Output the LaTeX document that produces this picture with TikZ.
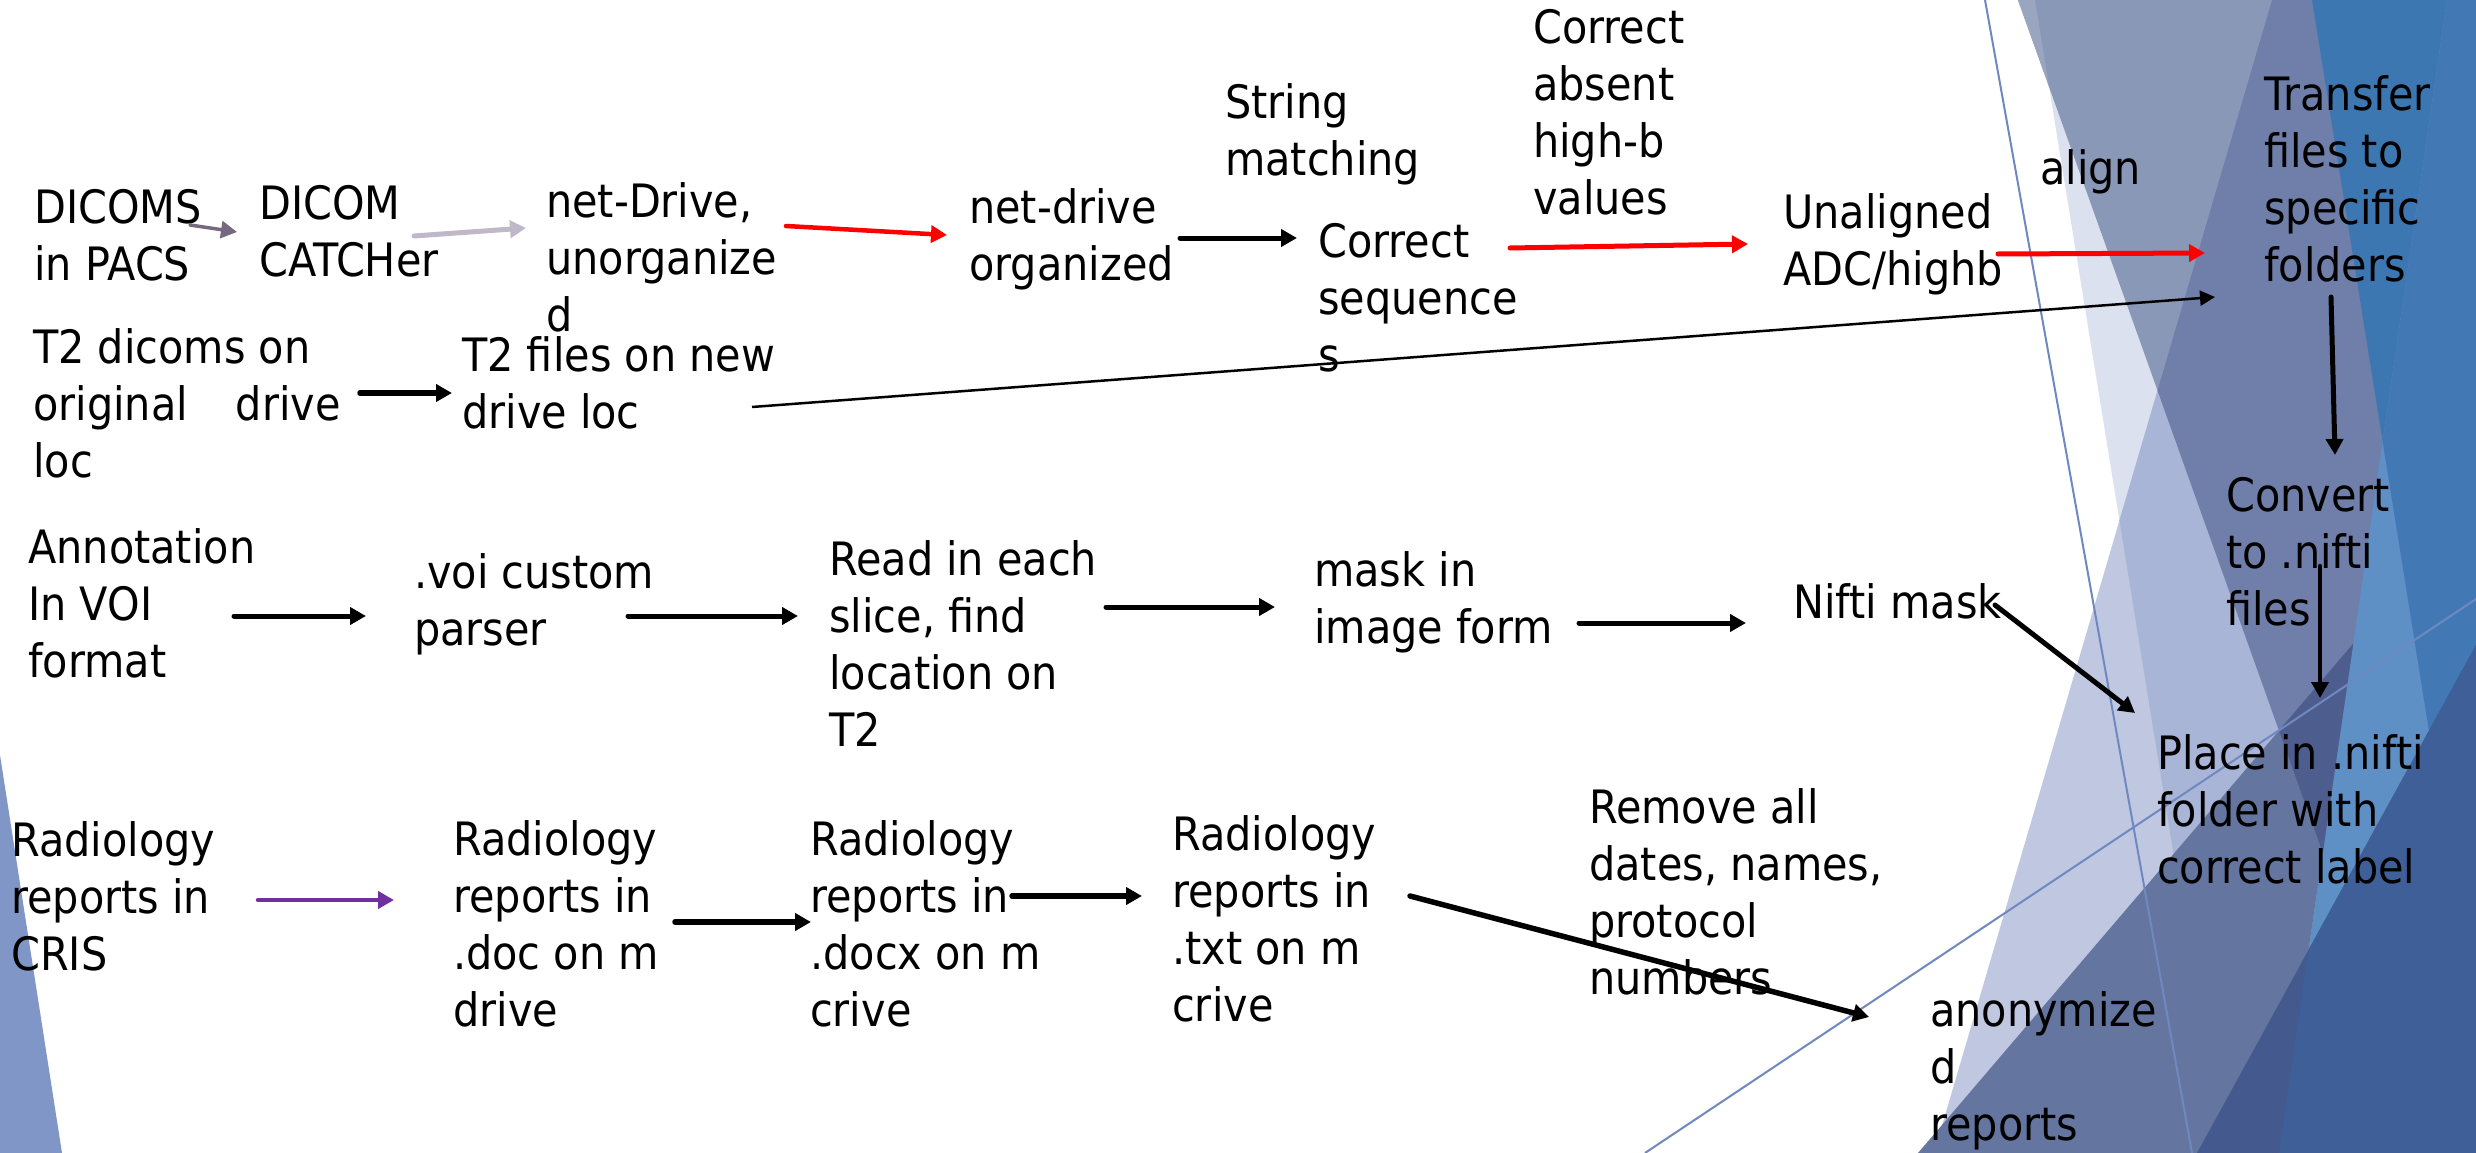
\documentclass[tikz,border=0pt]{standalone}
\usepackage{fontspec}
\setmainfont{DejaVu Sans}[FakeStretch=0.9]
\usetikzlibrary{arrows.meta}
\definecolor{cP}{HTML}{DCE1EF}
\definecolor{cB}{HTML}{BFC8E0}
\definecolor{cBP}{HTML}{A9B5D6}
\definecolor{cA}{HTML}{9AA5C0}
\definecolor{cAP}{HTML}{8A98B8}
\definecolor{cSl}{HTML}{6F7FAA}
\definecolor{cC}{HTML}{3D77B2}
\definecolor{cLB}{HTML}{5E8FC5}
\definecolor{cCtwo}{HTML}{4279B5}
\definecolor{cE}{HTML}{6476A0}
\definecolor{cEtwo}{HTML}{4D5D8D}
\definecolor{cG}{HTML}{44598E}
\definecolor{cGtwo}{HTML}{3F5F99}
\definecolor{cT}{HTML}{7088C0}
\definecolor{cSliver}{HTML}{8096C6}
\definecolor{arrPurple}{HTML}{7030A0}
\definecolor{arrGrayA}{HTML}{76687F}
\definecolor{arrGrayB}{HTML}{BFB8C8}
\begin{document}
\begin{tikzpicture}[x=1pt,y=-1pt,
  txt/.style={anchor=north west,inner sep=0pt,align=left,font=\fontsize{46}{57}\selectfont},
  arr/.style={line width=5pt,line cap=round,-{Triangle[length=16pt,width=17pt]}},
  thinarr/.style={line width=2.5pt,-{Triangle[length=15pt,width=15pt]}},
  bgline/.style={cT,line width=2pt}]
\useasboundingbox (0,0) rectangle (2476,1153);
\fill[white] (0,0) rectangle (2476,1153);
% ---------- background facets ----------
\fill[cP] (2035,0)--(2476,0)--(2476,1153)--(2222,1153)--cycle;
\fill[cB] (2272,0)--(2476,0)--(2476,1153)--(1934,1153)--cycle;
\begin{scope}
  \clip (2272,0)--(2476,0)--(2476,1153)--(1934,1153)--cycle;
  \fill[cBP] (2035,0)--(2476,0)--(2476,1153)--(2222,1153)--cycle;
\end{scope}
\fill[cAP] (2018,0)--(2476,0)--(2476,1153)--(2430,1153)--cycle;
\begin{scope}
  \clip (2018,0)--(2476,0)--(2476,1153)--(2430,1153)--cycle;
  \fill[cA] (0,0)--(2035,0)--(2222,1153)--(0,1153)--cycle;
\end{scope}
\begin{scope}
  \clip (2018,0)--(2476,0)--(2476,1153)--(2430,1153)--cycle;
  \fill[cSl] (2272,0)--(2476,0)--(2476,1153)--(1934,1153)--cycle;
\end{scope}
\fill[cC] (2312,0)--(2476,0)--(2476,1025)--cycle;
\begin{scope}
  \clip (2447,0)--(2476,0)--(2476,1153)--(2279,1153)--cycle;
  \fill[cLB] (0,0) rectangle (2476,1153);
  \fill[cCtwo] (2312,0)--(2476,0)--(2476,1025)--cycle;
\end{scope}
\begin{scope}
  \clip (0,0)--(2447,0)--(2279,1153)--(0,1153)--cycle;
  \clip (1918,1153)--(2476,500)--(2476,1153)--cycle;
  \fill[cE] (0,0) rectangle (2476,1153);
  \clip (2018,0)--(2476,0)--(2476,1153)--(2430,1153)--cycle;
  \fill[cEtwo] (0,0) rectangle (2476,1153);
\end{scope}
\fill[cG] (2197,1153)--(2476,645)--(2476,1153)--cycle;
\begin{scope}
  \clip (2197,1153)--(2476,645)--(2476,1153)--cycle;
  \clip (2447,0)--(2476,0)--(2476,1153)--(2279,1153)--cycle;
  \fill[cGtwo] (0,0) rectangle (2476,1153);
\end{scope}
\draw[bgline] (1985,0)--(2192,1153);
\draw[bgline] (1645,1153)--(2476,599);
\fill[cSliver] (0,755)--(62,1153)--(0,1153)--cycle;
% ---------- texts ----------
\node[txt] (dicoms)   at (34,183)   {\strut DICOMS\\in PACS};
\node[txt] (catcher)  at (259,179)  {\strut DICOM\\CATCHer};
\node[txt] (netunorg) at (546,177)  {\strut net-Drive,\\unorganize\\d};
\node[txt] (netorg)   at (969,183)  {\strut net-drive\\organized};
\node[txt] (strmatch) at (1225,78)  {\strut String\\matching};
\node[txt] (corrseq)  at (1318,217) {\strut Correct\\sequence\\s};
\node[txt] (corrabs)  at (1533,3)   {\strut Correct\\absent\\high-b\\values};
\node[txt] (unalign)  at (1783,188) {\strut Unaligned\\ADC/highb};
\node[txt] (align)    at (2040,144) {\strut align};
\node[txt] (transfer) at (2264,70)  {\strut Transfer\\files to\\specific\\folders};
\node[txt] (tdicoms)  at (33,323)   {\strut T2 dicoms on\\original\hspace*{48pt}drive\\loc};
\node[txt] (tfiles)   at (462,331)  {\strut T2 files on new\\drive loc};
\node[txt] (convert)  at (2226,471) {\strut Convert\\to .nifti\\files};
\node[txt] (annot)    at (28,523)   {\strut Annotation\\In VOI\\format};
\node[txt] (voi)      at (414,548)  {\strut .voi custom\\parser};
\node[txt] (readin)   at (829,535)  {\strut Read in each\\slice, find\\location on\\T2};
\node[txt] (maskimg)  at (1314,546) {\strut mask in\\image form};
\node[txt] (niftim)   at (1793,578) {\strut Nifti mask};
\node[txt] (place)    at (2157,729) {\strut Place in .nifti\\folder with\\correct label};
\node[txt] (cris)     at (11,816)   {\strut Radiology\\reports in\\CRIS};
\node[txt] (rdoc)     at (453,815)  {\strut Radiology\\reports in\\.doc on m\\drive};
\node[txt] (rdocx)    at (810,815)  {\strut Radiology\\reports in\\.docx on m\\crive};
\node[txt] (rtxt)     at (1172,810) {\strut Radiology\\reports in\\.txt on m\\crive};
\node[txt] (remove)   at (1589,783) {\strut Remove all\\dates, names,\\protocol\\numbers};
\node[txt] (anon)     at (1930,986) {\strut anonymize\\d\\reports};
% ---------- connector end points ----------
\coordinate (a1s) at (190,225);  \coordinate (a1e) at (237,232);
\coordinate (a2s) at (414,236);  \coordinate (a2e) at (526,228);
\coordinate (a3s) at (786,226);  \coordinate (a3e) at (947,235);
\coordinate (a4s) at (1180,238); \coordinate (a4e) at (1297,238);
\coordinate (a5s) at (1510,248); \coordinate (a5e) at (1748,244);
\coordinate (a6s) at (1998,254); \coordinate (a6e) at (2205,253);
\coordinate (a7s) at (360,393);  \coordinate (a7e) at (452,393);
\coordinate (a8s) at (752,407);  \coordinate (a8e) at (2215,297);
\coordinate (a9s) at (2331,297); \coordinate (a9e) at (2335,455);
\coordinate (a10s) at (2320,566); \coordinate (a10e) at (2320,698);
\coordinate (a11s) at (234,616); \coordinate (a11e) at (366,616);
\coordinate (a12s) at (628,616); \coordinate (a12e) at (798,616);
\coordinate (a13s) at (1106,607); \coordinate (a13e) at (1275,607);
\coordinate (a14s) at (1579,623); \coordinate (a14e) at (1746,623);
\coordinate (a15s) at (1995,605); \coordinate (a15e) at (2135,713);
\coordinate (a16s) at (258,900); \coordinate (a16e) at (394,900);
\coordinate (a17s) at (675,922); \coordinate (a17e) at (811,922);
\coordinate (a18s) at (1012,896); \coordinate (a18e) at (1142,896);
\coordinate (a19s) at (1410,896); \coordinate (a19e) at (1869,1017);
% ---------- connectors ----------
\draw[arr,arrGrayA,line width=3.5pt] (a1s) -- (a1e);
\draw[arr,arrGrayB] (a2s) -- (a2e);
\draw[arr,red,line width=4.5pt] (a3s) -- (a3e);
\draw[arr,black] (a4s) -- (a4e);
\draw[arr,red] (a5s) -- (a5e);
\draw[arr,red] (a6s) -- (a6e);
\draw[arr,black,line width=5.5pt] (a7s) -- (a7e);
\draw[thinarr,black] (a8s) -- (a8e);
\draw[arr,black] (a9s) -- (a9e);
\draw[arr,black,line width=4.5pt] (a10s) -- (a10e);
\draw[arr,black] (a11s) -- (a11e);
\draw[arr,black] (a12s) -- (a12e);
\draw[arr,black] (a13s) -- (a13e);
\draw[arr,black] (a14s) -- (a14e);
\draw[arr,black] (a15s) -- (a15e);
\draw[arr,arrPurple,line width=4.5pt] (a16s) -- (a16e);
\draw[arr,black,line width=5.5pt] (a17s) -- (a17e);
\draw[arr,black,line width=5.5pt] (a18s) -- (a18e);
\draw[arr,black,line width=5.5pt] (a19s) -- (a19e);
\end{tikzpicture}
\end{document}
